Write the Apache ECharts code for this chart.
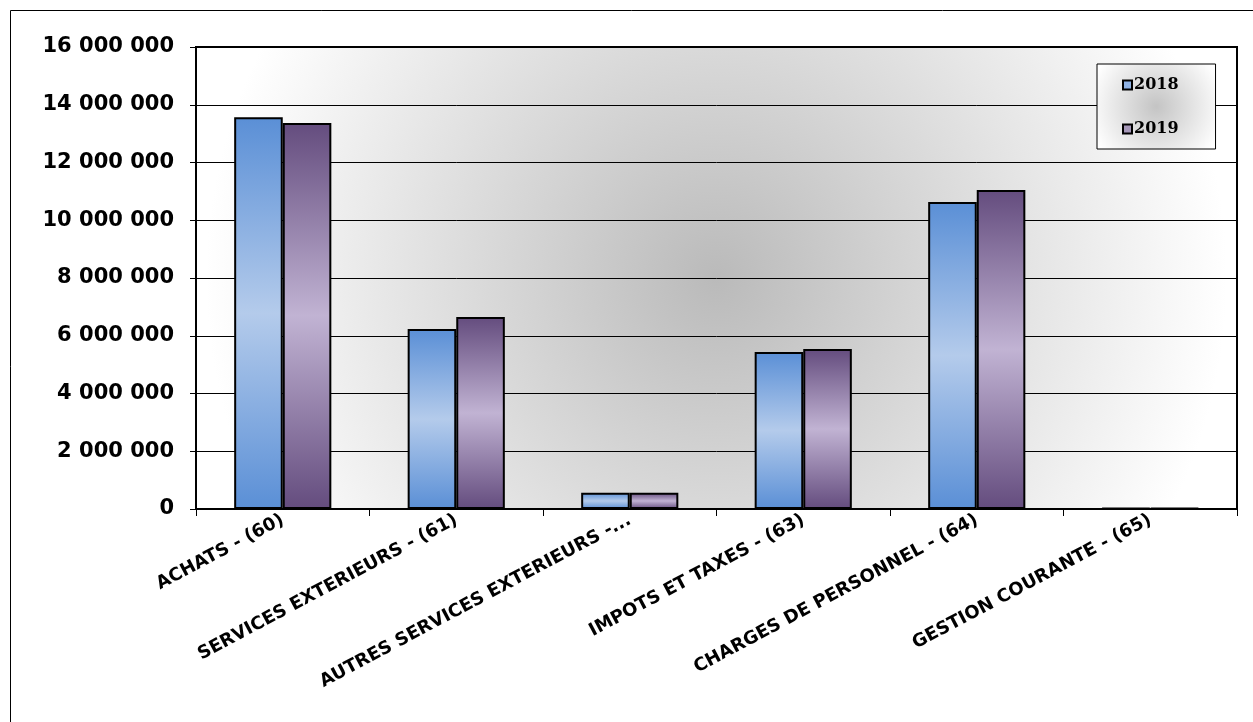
<!DOCTYPE html>
<html>
<head>
<meta charset="utf-8">
<script src="https://cdn.jsdelivr.net/npm/echarts@6/dist/echarts.min.js"></script>
<style>
  html, body { margin: 0; padding: 0; background: #fff; }
  #chart { width: 1253px; height: 722px; }
</style>
</head>
<body>
<div id="chart"></div>
<script>
const categories = [
  'ACHATS - (60)',
  'SERVICES EXTERIEURS - (61)',
  'AUTRES SERVICES EXTERIEURS -...',
  'IMPOTS ET TAXES - (63)',
  'CHARGES DE PERSONNEL - (64)',
  'GESTION COURANTE - (65)'
]
const values2018 = [13570000, 6230000, 560000, 5440000, 10630000, 30000]
const values2019 = [13370000, 6650000, 560000, 5540000, 11050000, 30000]

const myChart = echarts.init(document.getElementById('chart'))

// lighter in the middle, darker at top and bottom
function barFill (edge, mid) {
  return new echarts.graphic.LinearGradient(0, 0, 0, 1, [
    { offset: 0, color: edge },
    { offset: 0.5, color: mid },
    { offset: 1, color: edge }
  ])
}

const fmt = v => String(v).replace(/\B(?=(\d{3})+(?!\d))/g, ' ')

const option = {
  backgroundColor: '#fff',
  animation: false,
  graphic: [{
    type: 'polyline',
    shape: { points: [[10.5, 722], [10.5, 10.5], [1253, 10.5]] },
    style: { fill: 'none', stroke: '#000', lineWidth: 1 },
    silent: true
  }],
  grid: {
    left: 196,
    right: 16,
    top: 47,
    bottom: 213,
    show: true,
    borderColor: '#000',
    borderWidth: 2,
    backgroundColor: new echarts.graphic.RadialGradient(0.5, 0.5, 1.1, [
      { offset: 0, color: '#bababa' },
      { offset: 1, color: '#ffffff' }
    ])
  },
  legend: {
    orient: 'vertical',
    left: 1097,
    top: 64,
    itemWidth: 9,
    itemHeight: 9,
    itemGap: 28,
    padding: [13, 37, 12, 25],
    borderColor: '#000',
    borderWidth: 1,
    backgroundColor: new echarts.graphic.RadialGradient(0.5, 0.5, 0.8, [
      { offset: 0, color: '#c4c4c4' },
      { offset: 1, color: '#ffffff' }
    ]),
    textStyle: {
      fontFamily: 'DejaVu Serif',
      fontWeight: 'bold',
      fontSize: 16,
      color: '#000',
      padding: [0, 0, 0, -3]
    },
    itemStyle: { borderColor: '#000', borderWidth: 2 },
    data: [
      { name: '2018', icon: 'rect', itemStyle: { color: '#8fb2e4' } },
      { name: '2019', icon: 'rect', itemStyle: { color: '#a597b8' } }
    ]
  },
  xAxis: {
    type: 'category',
    data: categories,
    axisLine: { lineStyle: { color: '#000', width: 2 } },
    axisTick: { show: true, length: 7, lineStyle: { color: '#000', width: 1 } },
    axisLabel: {
      interval: 0,
      rotate: 28,
      margin: 10,
      fontFamily: 'DejaVu Sans',
      fontWeight: 'bold',
      fontSize: 18,
      color: '#000'
    }
  },
  yAxis: {
    type: 'value',
    min: 0,
    max: 16000000,
    interval: 2000000,
    axisLine: { show: true, lineStyle: { color: '#000', width: 2 } },
    axisTick: { show: true, length: 6, lineStyle: { color: '#000', width: 1 } },
    splitLine: { lineStyle: { color: '#000', width: 1 } },
    axisLabel: {
      formatter: fmt,
      margin: 22,
      fontFamily: 'DejaVu Sans',
      fontWeight: 'bold',
      fontSize: 21,
      color: '#000'
    }
  },
  series: [
    {
      name: '2018',
      type: 'bar',
      data: values2018,
      barGap: '0%',
      barCategoryGap: '44%',
      itemStyle: {
        color: barFill('#5a8fd6', '#b4cbeb'),
        borderColor: '#000',
        borderWidth: 2
      }
    },
    {
      name: '2019',
      type: 'bar',
      data: values2019,
      itemStyle: {
        color: barFill('#644c7e', '#c1b3d3'),
        borderColor: '#000',
        borderWidth: 2
      }
    }
  ]
}
myChart.setOption(option)
</script>
</body>
</html>
